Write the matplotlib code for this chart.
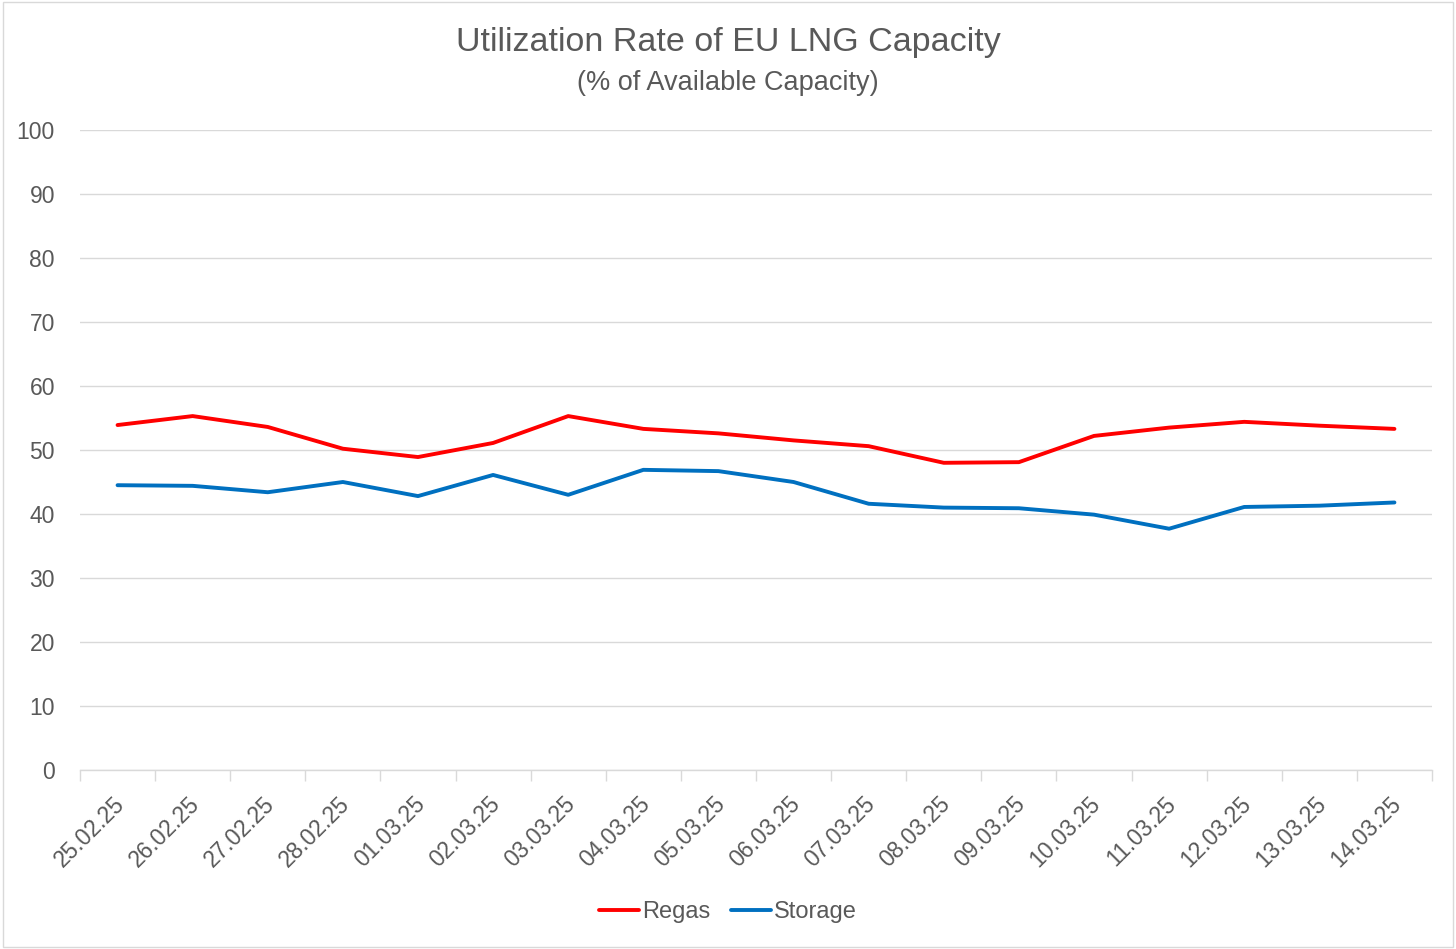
import numpy as np
import matplotlib
matplotlib.use("Agg")
import matplotlib.pyplot as plt
import matplotlib.transforms as mtransforms
from matplotlib.patches import Rectangle

dates = ["25.02.25", "26.02.25", "27.02.25", "28.02.25", "01.03.25", "02.03.25",
         "03.03.25", "04.03.25", "05.03.25", "06.03.25", "07.03.25", "08.03.25",
         "09.03.25", "10.03.25", "11.03.25", "12.03.25", "13.03.25", "14.03.25"]
regas = [53.9, 55.3, 53.6, 50.2, 48.9, 51.1, 55.3, 53.3, 52.6, 51.5, 50.6, 48.0,
         48.1, 52.2, 53.5, 54.4, 53.8, 53.3]
storage = [44.5, 44.4, 43.4, 45.0, 42.8, 46.1, 43.0, 46.9, 46.7, 45.0, 41.6, 41.0,
           40.9, 39.9, 37.7, 41.1, 41.3, 41.8]

plt.rcParams['font.family'] = ['Liberation Sans', 'DejaVu Sans']
txt = '#595959'
grid = '#D9D9D9'

fig = plt.figure(figsize=(14.56, 9.49), dpi=100)
fig.patches.append(Rectangle((0.002, 0.002), 0.996, 0.996, transform=fig.transFigure,
                             fill=False, edgecolor='#D9D9D9', linewidth=1))
ax = fig.add_axes([80/1456, 1-770/949, (1432-80)/1456, 640/949])

x = np.arange(len(dates))
ax.plot(x, regas, color='#FF0000', linewidth=2.8, label='Regas', solid_capstyle='round')
ax.plot(x, storage, color='#0070C0', linewidth=2.8, label='Storage', solid_capstyle='round')

ax.set_xlim(-0.5, len(dates) - 0.5)
ax.set_ylim(0, 100)
ax.set_yticks(range(0, 101, 10))
ax.yaxis.grid(True, color=grid, linewidth=1)
ax.set_axisbelow(True)
for s in ['top', 'right', 'left']:
    ax.spines[s].set_visible(False)
ax.spines['bottom'].set_color(grid)
ax.spines['bottom'].set_linewidth(1)

ax.set_xticks(x)
ax.set_xticklabels(dates, rotation=45, ha='right', va='top', rotation_mode='anchor')
ax.set_xticks(np.arange(-0.5, len(dates), 1), minor=True)
ax.tick_params(axis='x', which='major', length=0, pad=16, labelsize=16.5, labelcolor=txt)
ax.tick_params(axis='x', which='minor', length=8, color=grid, width=1)
ax.tick_params(axis='y', length=0, pad=18, labelsize=16.5, labelcolor=txt)

# shift date labels a little to the left
shift = mtransforms.ScaledTranslation(-5/100, 0, fig.dpi_scale_trans)
for lbl in ax.get_xticklabels():
    lbl.set_transform(lbl.get_transform() + shift)

fig.text(0.5, 1 - 42/949, 'Utilization Rate of EU LNG Capacity', ha='center', va='center',
         fontsize=24.5, color=txt)
fig.text(0.5, 1 - 83/949, '(% of Available Capacity)', ha='center', va='center',
         fontsize=19.5, color=txt)

fig.legend(loc='center', bbox_to_anchor=(0.5, 1 - 912/949), ncol=2, frameon=False,
           fontsize=17, labelcolor=txt, handlelength=1.7,
           handletextpad=0.1, columnspacing=0.9)

fig.savefig('out.png', dpi=100)
